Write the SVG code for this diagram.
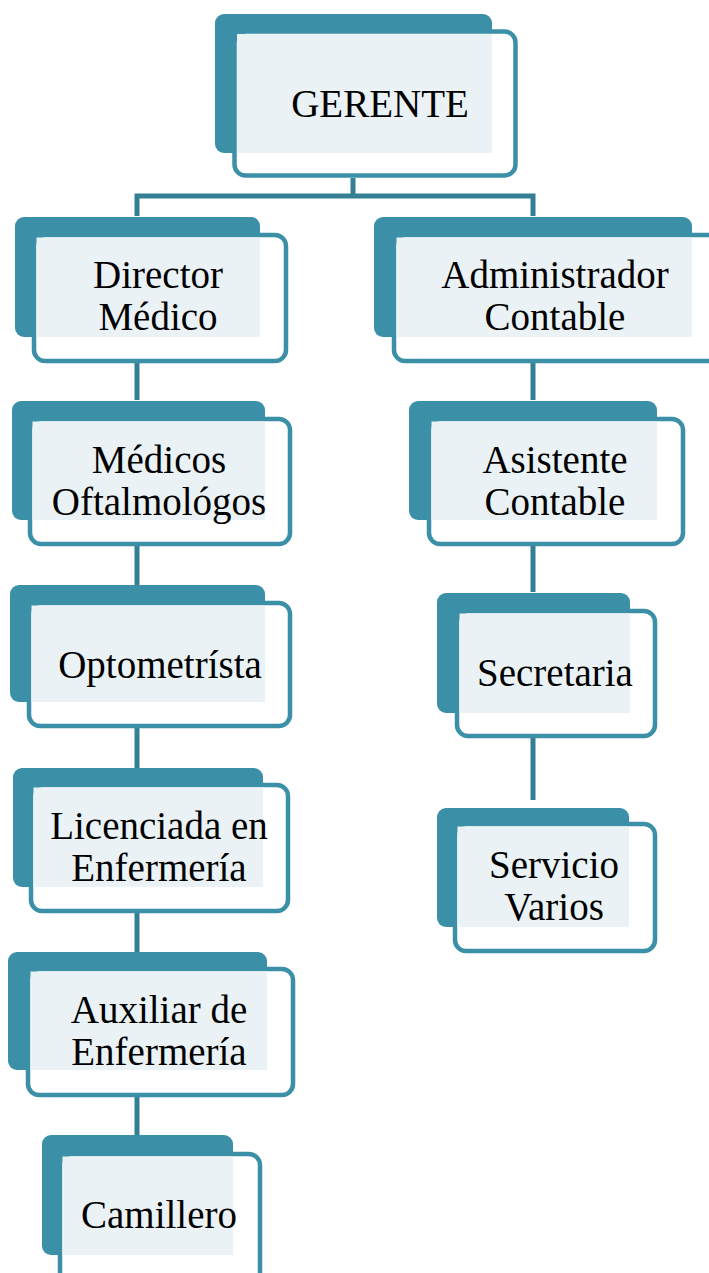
<svg xmlns="http://www.w3.org/2000/svg" width="709" height="1273" viewBox="0 0 709 1273">
<style>
.back{fill:#3B90A8}
.front{fill:#ffffff;stroke:#3B90A8;stroke-width:4.5}
.inner{fill:#EAF2F5}
.lbl{font-family:"Liberation Serif","Times New Roman",serif;font-size:39px;fill:#000;text-anchor:middle}
.conn{stroke:#347F93;stroke-width:5;fill:none}
</style>
<rect width="709" height="1273" fill="#ffffff"/>
<g id="connectors">
<path class="conn" d="M353 178 V196 M137 196 H533 M137 193.5 V216 M533 193.5 V216"/>
<path class="conn" d="M137 363 V400 M137 546 V585 M137 728 V768 M137 913 V952 M137 1097 V1135"/>
<path class="conn" d="M533 363 V400 M533 546 V592 M533 738 V800"/>
</g>
<g id="gerente">
<rect class="back" x="215" y="14" width="277" height="139" rx="9"/>
<rect class="front" x="234.5" y="31.5" width="281" height="144" rx="11"/>
<rect class="inner" x="237" y="34" width="255" height="119"/>
<text class="lbl" x="380" y="117" font-size="40">GERENTE</text>
</g>
<g id="director">
<rect class="back" x="15" y="217" width="245" height="120" rx="9"/>
<rect class="front" x="34" y="235" width="252" height="126" rx="11"/>
<rect class="inner" x="36.5" y="237.5" width="223.5" height="99.5"/>
<text class="lbl" x="158" y="288">Director</text>
<text class="lbl" x="158" y="330">Médico</text>
</g>
<g id="administrador">
<rect class="back" x="374" y="217" width="318" height="120" rx="9"/>
<rect class="front" x="394" y="235" width="330" height="126" rx="11"/>
<rect class="inner" x="396.5" y="237.5" width="295.5" height="99.5"/>
<text class="lbl" x="555" y="288">Administrador</text>
<text class="lbl" x="555" y="330">Contable</text>
</g>
<g id="medicos">
<rect class="back" x="12" y="401" width="253" height="119" rx="9"/>
<rect class="front" x="30" y="419" width="260" height="125" rx="11"/>
<rect class="inner" x="32.5" y="421.5" width="232.5" height="98.5"/>
<text class="lbl" x="159" y="473">Médicos</text>
<text class="lbl" x="159" y="515">Oftalmológos</text>
</g>
<g id="asistente">
<rect class="back" x="409" y="401" width="248" height="119" rx="9"/>
<rect class="front" x="429" y="419" width="254" height="125" rx="11"/>
<rect class="inner" x="431.5" y="421.5" width="225.5" height="98.5"/>
<text class="lbl" x="555" y="473">Asistente</text>
<text class="lbl" x="555" y="515">Contable</text>
</g>
<g id="optometrista">
<rect class="back" x="10" y="585" width="255" height="117" rx="9"/>
<rect class="front" x="29" y="603" width="261" height="123" rx="11"/>
<rect class="inner" x="31.5" y="605.5" width="233.5" height="96.5"/>
<text class="lbl" x="160" y="678">Optometrísta</text>
</g>
<g id="secretaria">
<rect class="back" x="437" y="593" width="193" height="120" rx="9"/>
<rect class="front" x="457" y="611" width="198" height="125" rx="11"/>
<rect class="inner" x="459.5" y="613.5" width="170.5" height="99.5"/>
<text class="lbl" x="555" y="686">Secretaria</text>
</g>
<g id="licenciada">
<rect class="back" x="13" y="768" width="250" height="119" rx="9"/>
<rect class="front" x="31" y="785" width="257" height="126" rx="11"/>
<rect class="inner" x="33.5" y="787.5" width="229.5" height="99.5"/>
<text class="lbl" x="159" y="839">Licenciada en</text>
<text class="lbl" x="159" y="881">Enfermería</text>
</g>
<g id="servicio">
<rect class="back" x="437" y="808" width="192" height="119" rx="9"/>
<rect class="front" x="455" y="824" width="200" height="127" rx="11"/>
<rect class="inner" x="457.5" y="826.5" width="171.5" height="100.5"/>
<text class="lbl" x="554" y="878">Servicio</text>
<text class="lbl" x="554" y="920">Varios</text>
</g>
<g id="auxiliar">
<rect class="back" x="8" y="952" width="259" height="118" rx="9"/>
<rect class="front" x="28" y="969" width="265" height="126" rx="11"/>
<rect class="inner" x="30.5" y="971.5" width="236.5" height="98.5"/>
<text class="lbl" x="159" y="1023">Auxiliar de</text>
<text class="lbl" x="159" y="1065">Enfermería</text>
</g>
<g id="camillero">
<rect class="back" x="42" y="1135" width="191" height="120" rx="9"/>
<rect class="front" x="60" y="1154" width="200" height="130" rx="11"/>
<rect class="inner" x="62.5" y="1156.5" width="170.5" height="98.5"/>
<text class="lbl" x="159" y="1228">Camillero</text>
</g>
</svg>
